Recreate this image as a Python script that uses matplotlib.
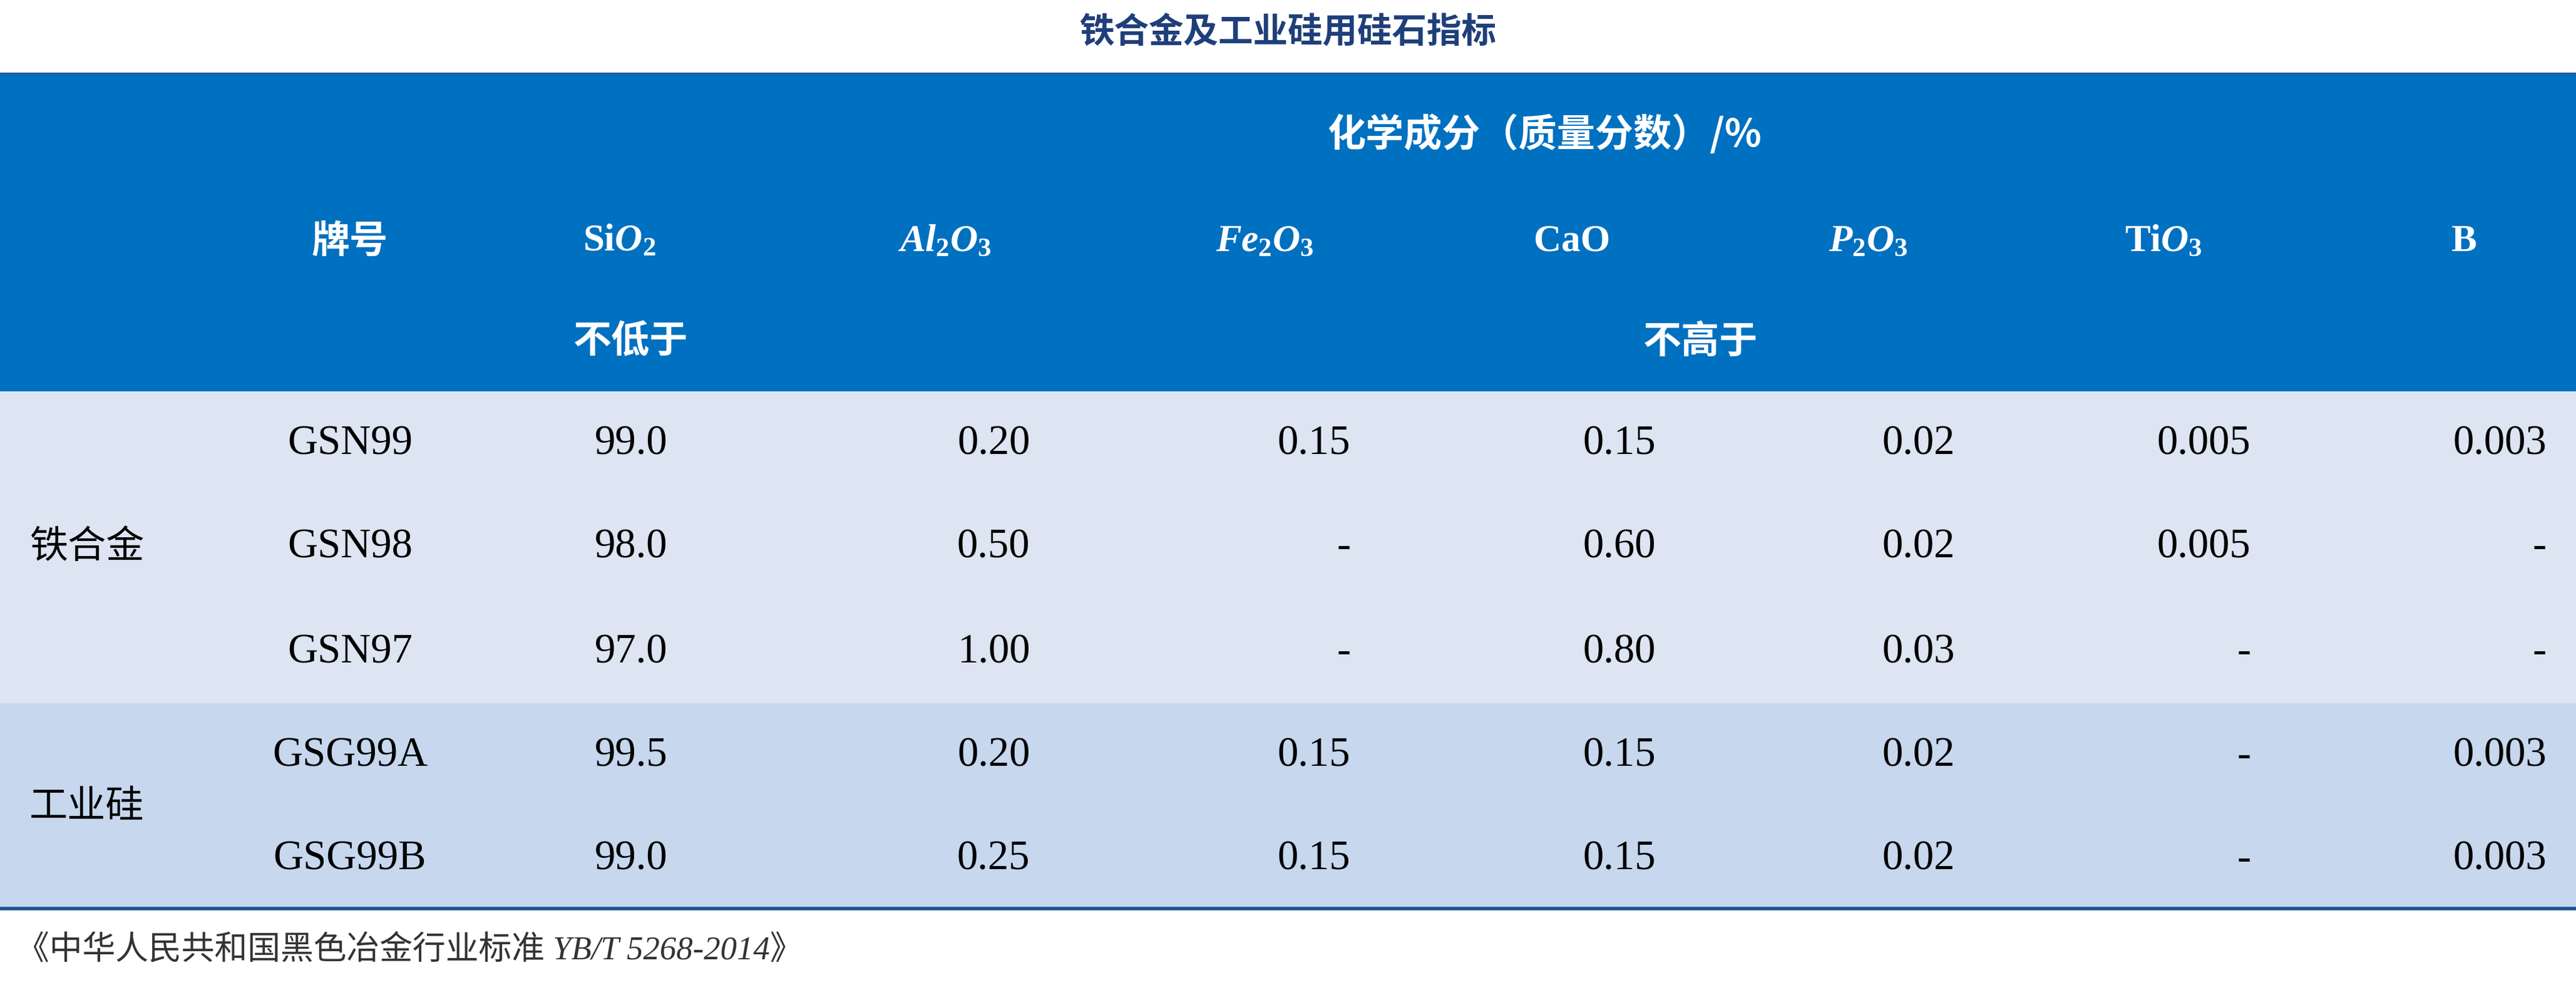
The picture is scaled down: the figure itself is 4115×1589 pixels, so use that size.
import matplotlib
matplotlib.use("Agg")
import matplotlib.pyplot as plt
from matplotlib.patches import Rectangle

plt.rcParams['mathtext.fontset'] = 'custom'
plt.rcParams['mathtext.rm'] = 'Liberation Serif:bold'
plt.rcParams['mathtext.it'] = 'Liberation Serif:italic:bold'
plt.rcParams['mathtext.bf'] = 'Liberation Serif:bold'

title = "铁合金及工业硅用硅石指标"
super_header = "化学成分（质量分数）/%"
columns = ["牌号", r"Si$O_{2}$", r"$Al_{2}O_{3}$", r"$Fe_{2}O_{3}$", "CaO", r"$P_{2}O_{3}$", r"Ti$O_{3}$", "B"]
groups = ["铁合金", "工业硅"]
group_rows = [3, 2]
grades = ["GSN99", "GSN98", "GSN97", "GSG99A", "GSG99B"]
sio2 = ["99.0", "98.0", "97.0", "99.5", "99.0"]
al2o3 = ["0.20", "0.50", "1.00", "0.20", "0.25"]
fe2o3 = ["0.15", "-", "-", "0.15", "0.15"]
cao = ["0.15", "0.60", "0.80", "0.15", "0.15"]
p2o3 = ["0.02", "0.02", "0.03", "0.02", "0.02"]
tio3 = ["0.005", "0.005", "-", "-", "-"]
b = ["0.003", "-", "-", "0.003", "0.003"]
footnote = "《中华人民共和国黑色冶金行业标准 YB/T 5268-2014》"

W, H = 1568, 605.5
fig = plt.figure(figsize=(41.15, 15.89), dpi=100)
ax = fig.add_axes([0, 0, 1, 1])
ax.set_xlim(0, W); ax.set_ylim(H, 0); ax.axis('off')

cjk = ['Noto Sans CJK SC', 'DejaVu Sans']
serif = ['Liberation Serif', 'Noto Sans CJK SC']
blue = '#0070C0'
ax.text(W/2, 20, title, ha='center', va='center', fontsize=40, fontweight='bold', color='#1F3F7A', family=cjk)
ax.add_patch(Rectangle((0, 45), W, 193, color=blue, lw=0))
ax.add_patch(Rectangle((0, 238), W, 190, color='#DCE5F1', lw=0))
ax.add_patch(Rectangle((0, 428), W, 125, color='#C6D7EE', lw=0))
ax.plot([0, W], [45, 45], color='#1F5FA8', lw=3)
ax.plot([0, W], [553, 553], color='#1F4F8F', lw=4)

hc = dict(ha='center', va='center', color='white', fontsize=44, fontweight='bold')
ax.text(940, 82, super_header, family=cjk, **hc)
col_x = [213, 377, 575, 770, 957, 1137, 1317, 1500]
for x, c in zip(col_x, columns):
    ax.text(x, 147, c, family=cjk if c == "牌号" else serif, **hc)
ax.text(384, 208, "不低于", family=cjk, **hc)
ax.text(1035, 208, "不高于", family=cjk, **hc)

row_y = [270, 333, 397, 460, 523]
gy = [333, 491]
for g, y in zip(groups, gy):
    ax.text(18, y, g, ha='left', va='center', fontsize=44, family=cjk, color='black')
right_x = [627, 822, 1008, 1190, 1370, 1550]
dc = dict(va='center', fontsize=48, family=serif, color='black')
for i, y in enumerate(row_y):
    ax.text(213, y, grades[i], ha='center', **dc)
    ax.text(384, y, sio2[i], ha='center', **dc)
    for x, col in zip(right_x, [al2o3, fe2o3, cao, p2o3, tio3, b]):
        ax.text(x, y, col[i], ha='right', **dc)
ax.text(10, 578, footnote, ha='left', va='center', fontsize=38, style='italic',
        family=['Liberation Serif', 'Noto Sans CJK SC'], color='#333333')
fig.savefig("out.png", dpi=100)
